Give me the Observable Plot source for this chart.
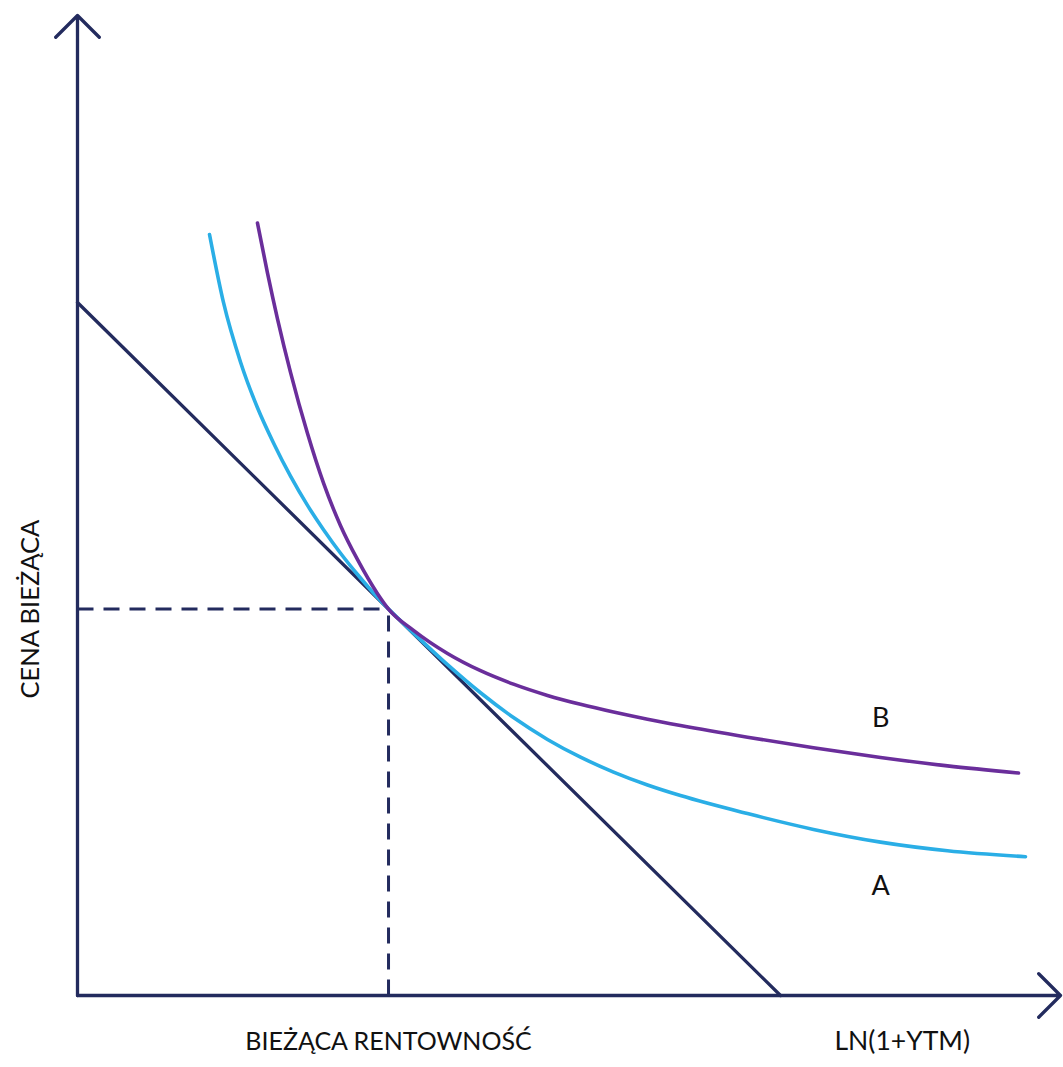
<!DOCTYPE html>
<html>
<head>
<meta charset="utf-8">
<script src="https://cdn.jsdelivr.net/npm/d3@7"></script>
<script src="https://cdn.jsdelivr.net/npm/@observablehq/plot@0.6"></script>
<style>
  html, body { margin: 0; padding: 0; background: #fff; }
  #chart svg { display: block; }
</style>
</head>
<body>
<div id="chart"></div>
<script>
// Curve A (lower convexity): ln(1+YTM) vs price
const curveAx = [1.343, 1.485, 1.658, 1.831, 1.994, 2.167, 2.340, 2.503, 2.676, 2.849, 3.052, 3.164, 3.418, 3.764, 4.100, 4.435, 4.781, 5.117, 5.453, 5.799, 6.134, 6.816, 7.487, 8.169, 8.850, 9.644];
const curveAy = [7.765, 7.072, 6.465, 5.997, 5.638, 5.299, 5.001, 4.753, 4.513, 4.296, 4.061, 3.943, 3.698, 3.376, 3.089, 2.836, 2.613, 2.432, 2.280, 2.148, 2.040, 1.856, 1.695, 1.565, 1.477, 1.416];
// Curve B (higher convexity)
const curveBx = [1.831, 1.933, 2.035, 2.167, 2.340, 2.503, 2.676, 2.849, 3.052, 3.164, 3.418, 3.764, 4.100, 4.435, 4.781, 5.117, 5.453, 5.799, 6.134, 6.816, 7.487, 8.169, 8.850, 9.573];
const curveBy = [7.882, 7.371, 6.902, 6.358, 5.734, 5.228, 4.794, 4.447, 4.100, 3.943, 3.726, 3.490, 3.314, 3.177, 3.062, 2.971, 2.892, 2.819, 2.755, 2.636, 2.528, 2.429, 2.343, 2.270];
// Tangent (duration) line
const tangentX = [0, 7.152];
const tangentY = [7.071, 0];
// Current point
const currentYield = 3.164;
const currentPrice = 3.943;
// Axis extents
const axisMax = 10;
// Labels
const curveLabels = ["A", "B"];
const curveLabelX = [8.17, 8.17];
const curveLabelY = [1.11, 2.83];
const xLabelText = "BIEŻĄCA RENTOWNOŚĆ";
const xAxisName = "LN(1+YTM)";
const xAxisNameX = 8.39;
const yLabelText = "CENA BIEŻĄCA";

const navy = "#232b5e";
const cyan = "#2aaee6";
const purple = "#6a2e9b";
const font = "Lato, 'Open Sans', sans-serif";

const A = curveAx.map((x, i) => ({x, y: curveAy[i]}));
const B = curveBx.map((x, i) => ({x, y: curveBy[i]}));
const T = tangentX.map((x, i) => ({x, y: tangentY[i]}));
const labels = curveLabels.map((t, i) => ({t, x: curveLabelX[i], y: curveLabelY[i]}));

const chart = Plot.plot({
  width: 1063,
  height: 1067,
  marginLeft: 77,
  marginRight: 3,
  marginTop: 15,
  marginBottom: 72,
  x: {domain: [0, axisMax], axis: null},
  y: {domain: [0, axisMax], axis: null},
  style: {fontFamily: font, background: "#fff"},
  marks: [
    // dashed guides
    Plot.link([{x1: 0, y1: currentPrice, x2: currentYield, y2: currentPrice}], {
      x1: "x1", y1: "y1", x2: "x2", y2: "y2",
      stroke: navy, strokeWidth: 3, strokeDasharray: "16,10"
    }),
    Plot.link([{x1: currentYield, y1: 0, x2: currentYield, y2: currentPrice}], {
      x1: "x1", y1: "y1", x2: "x2", y2: "y2",
      stroke: navy, strokeWidth: 3, strokeDasharray: "16,10"
    }),
    // tangent line
    Plot.line(T, {x: "x", y: "y", stroke: navy, strokeWidth: 3.3}),
    // curves
    Plot.line(A, {x: "x", y: "y", stroke: cyan, strokeWidth: 3.6, curve: "monotone-x"}),
    Plot.line(B, {x: "x", y: "y", stroke: purple, strokeWidth: 3.6, curve: "monotone-x"}),
    // axes with arrows
    Plot.arrow([{x1: 0, y1: 0, x2: 0, y2: axisMax}], {
      x1: "x1", y1: "y1", x2: "x2", y2: "y2",
      stroke: navy, strokeWidth: 3.3, headAngle: 90, headLength: 14, strokeLinejoin: "round", strokeLinecap: "round"
    }),
    Plot.arrow([{x1: 0, y1: 0, x2: axisMax, y2: 0}], {
      x1: "x1", y1: "y1", x2: "x2", y2: "y2",
      stroke: navy, strokeWidth: 3.3, headAngle: 90, headLength: 14, strokeLinejoin: "round", strokeLinecap: "round"
    }),
    // curve labels
    Plot.text(labels, {x: "x", y: "y", text: "t", fontSize: 27, fill: "#111", fontFamily: font}),
    // x labels under the axis
    Plot.text([xLabelText], {x: currentYield, y: 0, text: d => d, dy: 46, fontSize: 25, fill: "#111", fontFamily: font}),
    Plot.text([xAxisName], {x: xAxisNameX, y: 0, text: d => d, dy: 46, fontSize: 26.5, fill: "#111", fontFamily: font}),
    // y label
    Plot.text([yLabelText], {x: 0, y: currentPrice, text: d => d, dx: -47, rotate: -90, fontSize: 25.5, fill: "#111", fontFamily: font})
  ]
});
document.getElementById("chart").appendChild(chart);
</script>
</body>
</html>
